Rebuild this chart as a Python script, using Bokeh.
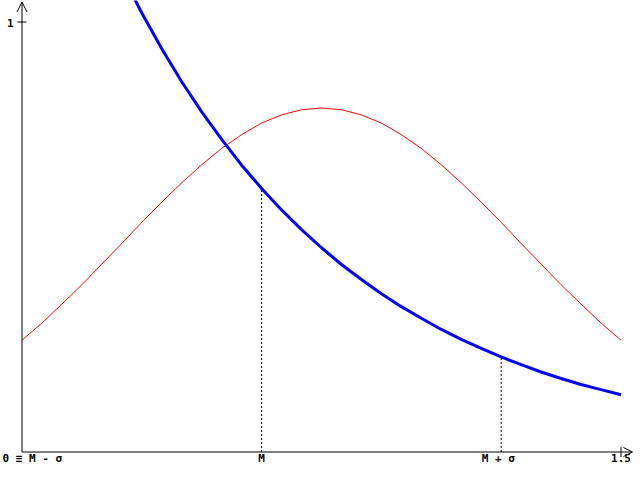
from bokeh.plotting import figure
from bokeh.models import Arrow, OpenHead, Range1d
from bokeh.core.properties import value
from bokeh.embed import file_html
from bokeh.resources import INLINE

# --- data ---
M = 0.6
SIGMA = 0.6
X_MAX = 1.5

red_x = [0.00, 0.05, 0.10, 0.15, 0.20, 0.25, 0.30, 0.35, 0.40, 0.45, 0.50,
         0.55, 0.60, 0.65, 0.70, 0.75, 0.80, 0.85, 0.90, 0.95, 1.00, 1.05,
         1.10, 1.15, 1.20, 1.25, 1.30, 1.35, 1.40, 1.45, 1.50]
red_y = [0.260, 0.300, 0.344, 0.389, 0.437, 0.485, 0.534, 0.581, 0.626, 0.668, 0.706,
         0.738, 0.765, 0.784, 0.796, 0.800, 0.796, 0.784, 0.765, 0.738, 0.706, 0.668,
         0.626, 0.581, 0.534, 0.485, 0.437, 0.389, 0.344, 0.300, 0.260]

blue_x = [0.25, 0.30, 0.35, 0.40, 0.45, 0.50, 0.55, 0.60, 0.65, 0.70, 0.75,
          0.80, 0.85, 0.90, 0.95, 1.00, 1.05, 1.10, 1.15, 1.20, 1.25, 1.30,
          1.35, 1.40, 1.45, 1.50]
blue_y = [1.111, 1.021, 0.938, 0.861, 0.791, 0.727, 0.667, 0.613, 0.563, 0.517, 0.475,
          0.436, 0.401, 0.368, 0.338, 0.311, 0.285, 0.262, 0.241, 0.221, 0.203, 0.186,
          0.171, 0.157, 0.145, 0.133]

drop_x = [M, M + SIGMA]
drop_y = [0.613, 0.221]

x_tick_labels = ["0 \u2261 M - \u03c3", "M", "M + \u03c3", "1.5"]
y_tick_label = "1"

FONT = value("DejaVu Sans Mono")

p = figure(width=633, height=465,
           x_range=Range1d(-0.05384, 1.53130),
           y_range=Range1d(-0.031395, 1.05),
           x_axis_type=None, y_axis_type=None,
           output_backend="svg", toolbar_location=None,
           min_border=0, min_border_left=0, min_border_right=0,
           min_border_top=0, min_border_bottom=0)
p.grid.visible = False
p.outline_line_color = None
p.background_fill_color = "white"
p.border_fill_color = "white"

# axes with arrow heads
p.add_layout(Arrow(end=OpenHead(size=9, line_width=1, line_color="black"),
                   x_start=0, y_start=0, x_end=1.5288, y_end=0,
                   line_color="black", line_width=1))
p.add_layout(Arrow(end=OpenHead(size=10, line_width=1, line_color="black"),
                   x_start=0, y_start=0, x_end=0, y_end=1.0465,
                   line_color="black", line_width=1))

# ticks
p.scatter(x=[X_MAX], y=[0], marker="dash", size=10, angle=1.5708,
          line_color="black", line_width=1)
p.scatter(x=[0], y=[1], marker="dash", size=9,
          line_color="black", line_width=1)

# dashed drop lines
p.segment(x0=drop_x, y0=[0, 0], x1=drop_x, y1=drop_y,
          line_color="black", line_width=1, line_dash="2 2")

# curves
p.line(red_x, red_y, line_color="#ff0000", line_width=1)
p.line(blue_x, blue_y, line_color="#0000ff", line_width=3)

# labels
common = dict(text_font=FONT, text_font_style="bold", text_font_size="11px",
              text_color="black", text_baseline="middle")
p.text(x=[0], y=[0], text=[x_tick_labels[0]], text_align="left",
       x_offset=-19.5, y_offset=6, **common)
p.text(x=[M, M + SIGMA, X_MAX], y=[0, 0, 0], text=x_tick_labels[1:],
       text_align="center", x_offset=[0, -3, 0], y_offset=6, **common)
p.text(x=[0], y=[1], text=[y_tick_label], text_align="right",
       x_offset=-8.5, y_offset=0.5, **common)

open("out.html", "w").write(file_html(p, INLINE))
